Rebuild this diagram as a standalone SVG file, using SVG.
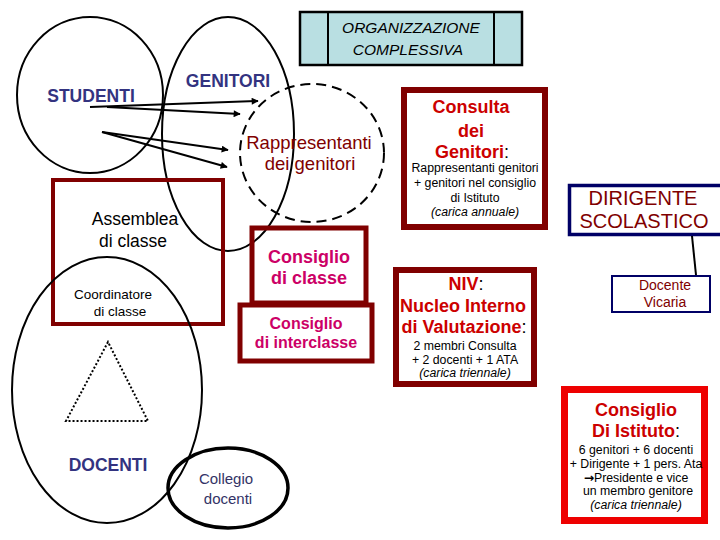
<svg xmlns="http://www.w3.org/2000/svg" width="720" height="540" viewBox="0 0 720 540">
<defs>
<marker id="ah" viewBox="0 0 10 10" refX="9" refY="5" markerWidth="9" markerHeight="7" markerUnits="userSpaceOnUse" orient="auto"><path d="M0,0 L10,5 L0,10 z" fill="#000"/></marker>
<style>
text{font-family:"Liberation Sans",Arial,sans-serif;text-anchor:middle}
.ell{fill:none;stroke:#000;stroke-width:2}
.dr{fill:none;stroke:#800000}
.nv{font-weight:bold;fill:#333380;font-size:17.5px}
.red{fill:#cc0000;font-weight:bold;font-size:18px}
.mag{fill:#cc0066;font-weight:bold}
.sm{font-size:12.3px;fill:#000}
.it{font-style:italic}
.conn{stroke:#000;stroke-width:2;fill:none}
</style>
</defs>
<rect width="720" height="540" fill="#fff"/>

<g id="title">
<rect x="300" y="12" width="222" height="53" fill="#b9dfe2" stroke="#000" stroke-width="2.5"/>
<line x1="328" y1="12" x2="328" y2="65" stroke="#000" stroke-width="2"/>
<line x1="494" y1="12" x2="494" y2="65" stroke="#000" stroke-width="2"/>
<text x="411" y="33" font-size="15.5" font-style="italic">ORGANIZZAZIONE</text>
<text x="408" y="55" font-size="15.5" font-style="italic">COMPLESSIVA</text>
</g>

<g id="studenti">
<ellipse cx="90" cy="95" rx="73" ry="78" class="ell"/>
<text x="91" y="102" class="nv">STUDENTI</text>
</g>

<g id="genitori">
<ellipse cx="228" cy="134" rx="66" ry="117" class="ell"/>
<text x="228" y="87" class="nv">GENITORI</text>
</g>

<g id="rappresentanti">
<ellipse cx="312" cy="153" rx="72" ry="69" fill="none" stroke="#000" stroke-width="2" stroke-dasharray="10,6"/>
<text x="309" y="149" font-size="18.5" fill="#800000">Rappresentanti</text>
<text x="310" y="170" font-size="18.5" fill="#800000">dei genitori</text>
</g>

<g id="assemblea">
<rect x="53" y="180" width="170" height="144" class="dr" stroke-width="4"/>
<text x="135" y="225" font-size="17.5">Assemblea</text>
<text x="133" y="247" font-size="17.5">di classe</text>
<text x="113" y="299" font-size="13.5">Coordinatore</text>
<text x="120" y="316" font-size="13.5">di classe</text>
</g>

<g id="docenti">
<ellipse cx="107" cy="390" rx="95" ry="133" class="ell"/>
<polygon points="108,342 66,421 148,421" fill="none" stroke="#000" stroke-width="2" stroke-dasharray="2,2"/>
<text x="108" y="471" class="nv">DOCENTI</text>
</g>

<g id="collegio">
<ellipse cx="228" cy="488" rx="60" ry="40" fill="none" stroke="#000" stroke-width="3.5"/>
<text x="226" y="484" font-size="15" fill="#333366">Collegio</text>
<text x="228" y="504" font-size="15" fill="#333366">docenti</text>
</g>

<g id="consiglio-classe">
<rect x="252" y="228" width="114" height="75" class="dr" stroke-width="5"/>
<text x="309" y="263" font-size="18" class="mag">Consiglio</text>
<text x="309" y="284" font-size="18" class="mag">di classe</text>
</g>

<g id="consiglio-interclasse">
<rect x="240" y="305" width="132" height="56" class="dr" stroke-width="5"/>
<text x="306" y="329" font-size="16" class="mag">Consiglio</text>
<text x="306" y="348" font-size="16" class="mag">di interclasse</text>
</g>

<g id="consulta">
<rect x="404" y="90" width="141" height="137" class="dr" stroke-width="6"/>
<text x="471" y="113" class="red">Consulta</text>
<text x="471" y="137" class="red">dei</text>
<text x="472" y="158" class="red">Genitori<tspan fill="#000" font-weight="normal">:</tspan></text>
<text x="475" y="172" class="sm">Rappresentanti genitori</text>
<text x="475" y="187" class="sm">+ genitori nel consiglio</text>
<text x="475" y="202" class="sm">di Istituto</text>
<text x="475" y="216" class="sm it">(carica annuale)</text>
</g>

<g id="dirigente">
<rect x="569.5" y="185.5" width="160" height="49" fill="#fff" stroke="#000066" stroke-width="3.5"/>
<text x="643" y="205" font-size="20" fill="#800000">DIRIGENTE</text>
<text x="644" y="228" font-size="20" fill="#800000">SCOLASTICO</text>
</g>

<g id="vicaria">
<rect x="612" y="276" width="98" height="36" fill="#fff" stroke="#000066" stroke-width="2"/>
<text x="665" y="290" font-size="14" fill="#800000">Docente</text>
<text x="665" y="307" font-size="14" fill="#800000">Vicaria</text>
</g>

<g id="niv">
<rect x="396" y="270" width="138" height="114" class="dr" stroke-width="6"/>
<text x="466" y="290" class="red">NIV<tspan fill="#000" font-weight="normal">:</tspan></text>
<text x="463" y="312" class="red">Nucleo Interno</text>
<text x="464" y="333" class="red">di Valutazione<tspan fill="#000" font-weight="normal">:</tspan></text>
<text x="465" y="350" class="sm">2 membri Consulta</text>
<text x="465" y="364" class="sm">+ 2 docenti + 1 ATA</text>
<text x="465" y="377" class="sm it">(carica triennale)</text>
</g>

<g id="istituto">
<rect x="564.5" y="389.5" width="140" height="131" fill="#fff" stroke="#ee0000" stroke-width="7"/>
<text x="636" y="416" class="red">Consiglio</text>
<text x="636" y="437" class="red">Di Istituto<tspan fill="#000" font-weight="normal">:</tspan></text>
<text x="636" y="454" class="sm">6 genitori + 6 docenti</text>
<text x="636" y="468" class="sm">+ Dirigente + 1 pers. Ata</text>
<text x="636" y="482" class="sm"><tspan font-family="DejaVu Sans" font-weight="bold">→</tspan>Presidente e vice</text>
<text x="638" y="495" class="sm">un membro genitore</text>
<text x="636" y="509" class="sm it">(carica triennale)</text>
</g>

<g id="connectors">
<line x1="90" y1="107" x2="258" y2="101" class="conn" marker-end="url(#ah)"/>
<line x1="107" y1="107" x2="240" y2="114" class="conn" marker-end="url(#ah)"/>
<line x1="102" y1="132" x2="228" y2="150" class="conn" marker-end="url(#ah)"/>
<line x1="102" y1="132" x2="227" y2="167" class="conn" marker-end="url(#ah)"/>
<line x1="692" y1="236" x2="696" y2="275" class="conn" stroke-width="2.5"/>
</g>
</svg>
